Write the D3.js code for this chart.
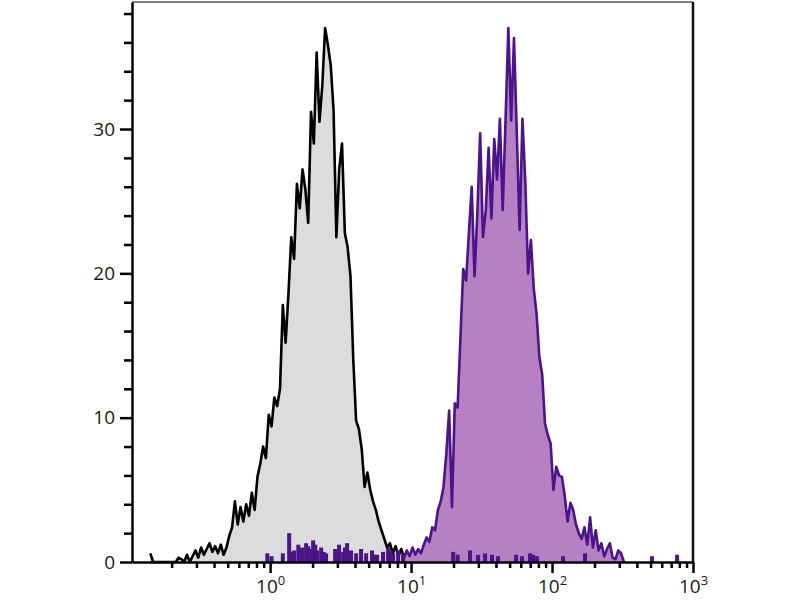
<!DOCTYPE html>
<html>
<head>
<meta charset="utf-8">
<script src="https://cdn.jsdelivr.net/npm/d3@7"></script>
<style>
  body { margin: 0; background: #fff; }
  .tick text { font-family: "Open Sans", sans-serif; font-size: 19px; fill: #1a1a1a; }
</style>
</head>
<body>
<div id="chart"></div>
<script>
// Histogram channels: log10 position of the first bin and bin width (in decades)
var binLogStep = 0.02;
var greyLogStart = -0.85;
var purpleLogStart = 0.95;

// Unstained / control sample counts (grey)
var greyCounts = [
  0.6, 0, 0, 0, 0, 0, 0, 0, 0, 0,
  0.3, 0.2, 0, 0.5, 0, 0.4, 0.8, 0.3, 1.0, 0.5,
  0.9, 1.3, 0.7, 1.1, 0.6, 1.2, 0.5, 1.0, 1.8, 2.4,
  4.2, 2.6, 3.8, 2.8, 4.0, 3.2, 4.8, 3.6, 5.9, 6.8,
  8.0, 7.2, 10.2, 9.4, 11.4, 10.8, 12.0, 17.8, 15.2, 18.6,
  22.5, 21.0, 26.2, 24.5, 27.2, 25.8, 23.5, 31.2, 29.0, 35.3,
  30.5, 33.0, 37.0, 35.8, 34.4, 31.3, 22.5, 27.2, 29.0, 22.8,
  21.8, 19.8, 14.0, 9.8, 9.2, 7.8, 5.2, 6.2, 5.0, 4.2,
  3.6, 2.8, 2.2, 1.6, 1.0, 1.3, 0.6, 1.1, 0.4, 0.9,
  0.3, 0.7, 0.2, 0
];

// Stained sample counts (purple)
var purpleCounts = [
  0.3, 0.8, 0.4, 1.0, 0.5, 0.9, 0.6, 1.2, 1.7, 1.4,
  2.4, 2.2, 3.6, 4.2, 5.2, 7.5, 10.5, 3.8, 11.0, 10.7,
  15.5, 20.3, 19.5, 22.8, 26.0, 19.8, 24.2, 29.7, 22.5, 24.4,
  28.7, 23.8, 29.3, 26.5, 30.7, 24.4, 30.6, 37.0, 30.6, 36.3,
  29.7, 23.0, 30.7, 26.4, 20.0, 22.3, 19.0, 17.2, 14.2, 13.0,
  9.6, 8.8, 8.2, 5.0, 6.6, 6.0, 5.9, 4.6, 2.8, 4.1,
  3.6, 2.6, 2.0, 1.6, 2.4, 1.2, 3.1, 1.0, 2.2, 0.8,
  1.3, 0.4, 0.9, 1.3, 0.3, 0.2, 0.8, 0.6, 0
];

// Low-level scattered events of the stained sample (log10 position, count)
var spikeLogs = [
  -0.02, 0.01, 0.09, 0.135, 0.155, 0.17, 0.2, 0.215, 0.227, 0.255,
  0.27, 0.284, 0.305, 0.32, 0.333, 0.362, 0.38, 0.397, 0.461, 0.475,
  0.489, 0.518, 0.53, 0.546, 0.574, 0.61, 0.645, 0.681, 0.723, 0.74,
  0.759, 0.801, 0.837, 0.855, 0.872, 0.908, 0.943, 1.298, 1.33, 1.418,
  1.475, 1.525, 1.574, 1.617, 1.745, 1.787, 1.844, 1.865, 1.894, 2.078,
  2.234, 2.709, 2.887
];
var spikeCounts = [
  0.6, 0.4, 0.6, 2.0, 0.7, 0.8, 1.2, 0.9, 1.0, 1.3,
  1.1, 0.9, 1.5, 1.2, 0.8, 1.0, 0.7, 0.6, 0.9, 0.6,
  1.2, 0.7, 1.0, 1.3, 0.8, 0.6, 0.9, 0.6, 0.8, 0.5,
  0.5, 0.7, 1.0, 0.8, 0.6, 0.8, 0.5, 0.7, 0.5, 0.8,
  0.5, 0.6, 0.5, 0.4, 0.5, 0.4, 0.6, 0.5, 0.4, 0.4,
  0.6, 0.4, 0.5
];

var yTicks = [0, 2, 4, 6, 8, 10, 12, 14, 16, 18, 20, 22, 24, 26, 28, 30, 32, 34, 36, 38];
var yLabels = [0, 10, 20, 30];
var decades = [0, 1, 2, 3];

var svgWidth = 800;
var svgHeight = 600;
var margin = { top: 2, right: 107, bottom: 38, left: 132 };
var width = svgWidth - margin.left - margin.right;
var height = svgHeight - margin.top - margin.bottom;

var svg = d3.select("#chart")
  .append("svg")
  .attr("width", svgWidth)
  .attr("height", svgHeight);

var chartGroup = svg.append("g")
  .attr("transform", `translate(${margin.left}, ${margin.top})`);

var xScale = d3.scaleLog()
  .domain([Math.pow(10, -0.98), 1000])
  .range([0, width]);

var yScale = d3.scaleLinear()
  .domain([0, 38.8])
  .range([height, 0]);

function toPoints(counts, logStart) {
  return counts.map(function(c, i) {
    return { x: Math.pow(10, logStart + i * binLogStep), y: c };
  });
}

var area = d3.area()
  .x(d => xScale(d.x))
  .y0(yScale(0))
  .y1(d => yScale(d.y));

var line = d3.line()
  .x(d => xScale(d.x))
  .y(d => yScale(d.y));

// grey control histogram
var greyData = toPoints(greyCounts, greyLogStart);
chartGroup.append("path")
  .datum(greyData)
  .attr("d", area)
  .attr("fill", "#dcdcdc");
chartGroup.append("path")
  .datum(greyData)
  .attr("d", line)
  .attr("fill", "none")
  .attr("stroke", "#000")
  .attr("stroke-width", 2.6)
  .attr("stroke-linejoin", "round");

// purple stained histogram
var purpleData = toPoints(purpleCounts, purpleLogStart);
chartGroup.append("path")
  .datum(purpleData)
  .attr("d", area)
  .attr("fill", "#b680c2");
chartGroup.append("path")
  .datum(purpleData)
  .attr("d", line)
  .attr("fill", "none")
  .attr("stroke", "#4b1488")
  .attr("stroke-width", 2.6)
  .attr("stroke-linejoin", "round");

// scattered low events
chartGroup.append("g").selectAll("rect")
  .data(spikeLogs)
  .enter()
  .append("rect")
  .attr("x", d => xScale(Math.pow(10, d)) - 2)
  .attr("width", 4)
  .attr("y", (d, i) => yScale(spikeCounts[i]))
  .attr("height", (d, i) => yScale(0) - yScale(spikeCounts[i]))
  .attr("fill", "#4b1488");

// box top and right
chartGroup.append("line")
  .attr("x1", 0).attr("x2", width)
  .attr("y1", 0).attr("y2", 0)
  .attr("stroke", "#555")
  .attr("stroke-width", 1.5);
chartGroup.append("line")
  .attr("x1", width).attr("x2", width)
  .attr("y1", 0).attr("y2", height)
  .attr("stroke", "#111")
  .attr("stroke-width", 2.5);

// y axis
var leftAxis = d3.axisLeft(yScale)
  .tickValues(yTicks)
  .tickSizeOuter(0)
  .tickPadding(6)
  .tickFormat(d => yLabels.indexOf(d) >= 0 ? d : "");
var yAxisG = chartGroup.append("g").call(leftAxis);
yAxisG.selectAll(".tick line")
  .attr("x2", d => yLabels.indexOf(d) >= 0 ? -12 : -8)
  .attr("stroke-width", 2.5);
yAxisG.selectAll(".tick text")
  .attr("x", -17);
yAxisG.select(".domain").attr("stroke-width", 2.5);

// x axis: minor ticks 1..9 per decade
var xTickVals = [];
[-1, 0, 1, 2].forEach(function(e) {
  for (var m = 1; m < 10; m++) {
    var v = m * Math.pow(10, e);
    if (v >= xScale.domain()[0]) xTickVals.push(v);
  }
});
xTickVals.push(1000);

var bottomAxis = d3.axisBottom(xScale)
  .tickValues(xTickVals)
  .tickSizeOuter(0)
  .tickFormat("");
var xAxisG = chartGroup.append("g")
  .attr("transform", `translate(0, ${height})`)
  .call(bottomAxis);
function isMajor(v) {
  var l = Math.log10(v);
  return Math.abs(l - Math.round(l)) < 1e-6 && decades.indexOf(Math.round(l)) >= 0;
}
xAxisG.selectAll(".tick line")
  .attr("y2", d => isMajor(d) ? 11 : 6)
  .attr("stroke-width", 2.5);
xAxisG.select(".domain").attr("stroke-width", 2.5);

xAxisG.selectAll(".tick")
  .filter(d => isMajor(d))
  .append("text")
  .attr("y", 31)
  .attr("fill", "#1a1a1a")
  .attr("text-anchor", "middle")
  .each(function(d) {
    var t = d3.select(this);
    t.append("tspan").text("10");
    t.append("tspan")
      .attr("dy", -8)
      .attr("font-size", 13)
      .text(Math.round(Math.log10(d)));
  });
</script>
</body>
</html>
